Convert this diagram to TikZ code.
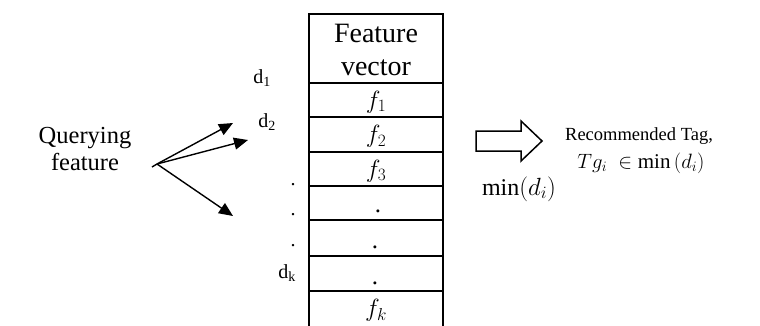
\documentclass[tikz,border=0pt]{standalone}
\usepackage{fontspec}
\setmainfont{Liberation Serif}
\usetikzlibrary{arrows.meta}
\begin{document}
\begin{tikzpicture}[x=1pt,y=-1pt,
  cell/.style={draw, line width=1.5pt, minimum width=134pt, inner sep=0pt, anchor=north},
  val/.style={font=\fontsize{25}{27}\selectfont, inner sep=0pt, anchor=base},
  dlbl/.style={font=\fontsize{20}{22}\selectfont, inner sep=0pt, anchor=base},
  big/.style={font=\fontsize{28}{30}\selectfont, inner sep=0pt, anchor=base},
  qtxt/.style={font=\fontsize{24.5}{27}\selectfont, inner sep=0pt, anchor=base},
  rtxt/.style={font=\fontsize{18.5}{20}\selectfont, inner sep=0pt, anchor=base},
  arr/.style={line width=1.4pt, -{Triangle[length=14pt,width=12pt]}}]
\useasboundingbox (0,0) rectangle (760,325);
% table cells
\node[cell, minimum height=69pt] (hdr) at (376,13) {};
\node[cell, minimum height=34pt] (c1) at (376,82) {};
\node[cell, minimum height=35pt] (c2) at (376,116) {};
\node[cell, minimum height=34pt] (c3) at (376,151) {};
\node[cell, minimum height=34pt] (c4) at (376,185) {};
\node[cell, minimum height=36pt] (c5) at (376,219) {};
\node[cell, minimum height=35pt] (c6) at (376,255) {};
\node[inner sep=0pt, minimum width=134pt, minimum height=36pt, anchor=north] (c7) at (376,290) {};
\draw[line width=1.5pt] (c7.south west) -- (c7.north west);
\draw[line width=1.5pt] (c7.north east) -- (c7.south east);
% table contents
\node[big] (t1) at (376,42) {Feature};
\node[big] (t2) at (376,75) {vector};
\node[val] (f1) at (376,108) {$f_1$};
\node[val] (f2) at (376,142.5) {$f_2$};
\node[val] (f3) at (376,177) {$f_3$};
\node[val] (p1) at (378,212) {.};
\node[val] (p2) at (375,248) {.};
\node[val] (p3) at (375,284) {.};
\node[val] (fk) at (376,316.5) {$f_k$};
% distance labels
\node[dlbl] (d1) at (262,83) {d\textsubscript{1}};
\node[dlbl] (d2) at (267,127) {d\textsubscript{2}};
\node[dlbl] (q1) at (293,185) {.};
\node[dlbl] (q2) at (293,215) {.};
\node[dlbl] (q3) at (293,246) {.};
\node[dlbl] (dk) at (287,278) {d\textsubscript{k}};
% querying feature
\node[qtxt] (qa) at (85,143) {Querying};
\node[qtxt] (qb) at (85,170) {feature};
\coordinate (q0) at (152,167);
\coordinate (qo) at (157,164);
\coordinate (e1) at (233,123);
\coordinate (e2) at (248,140);
\coordinate (e3) at (233,216);
\draw[line width=1.4pt] (q0) -- (qo);
\draw[arr] (qo) -- (e1);
\draw[arr] (qo) -- (e2);
\draw[arr] (qo) -- (e3);
% hollow arrow
\draw[line width=1.5pt, line join=miter] (476,131) -- (521,131) -- (521,121) -- (542,141) -- (521,161) -- (521,151) -- (476,151) -- cycle;
% result text
\node[rtxt] (r1) at (639,140) {Recommended Tag,};
\node[inner sep=0pt, anchor=base, font=\fontsize{21}{23}\selectfont] (r2) at (641,168) {$Tg_i\ \in \min\,(d_i)$};
\node[inner sep=0pt, anchor=base, font=\fontsize{24}{26}\selectfont] (m1) at (519,195) {$\min(d_i)$};
\end{tikzpicture}
\end{document}
